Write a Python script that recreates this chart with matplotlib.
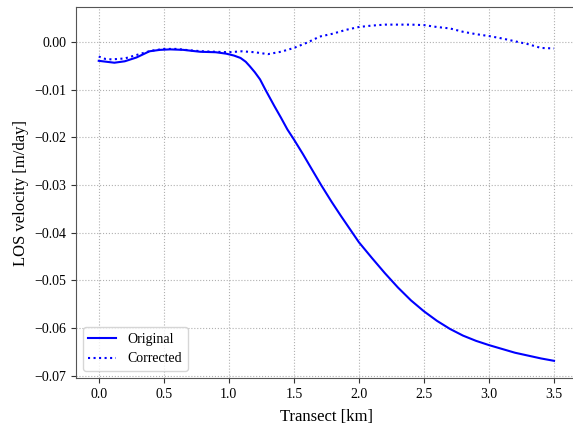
import matplotlib
matplotlib.use("Agg")
import matplotlib.pyplot as plt

# transect positions [km]
x_original = [0.0, 0.06, 0.12, 0.2, 0.29, 0.39, 0.47, 0.55, 0.65, 0.78, 0.9, 0.98, 1.04,
              1.09, 1.13, 1.16, 1.2, 1.24, 1.28, 1.32, 1.35, 1.4, 1.45, 1.5, 1.57, 1.63,
              1.71, 1.79, 1.86, 1.93, 2.0, 2.1, 2.2, 2.3, 2.4, 2.5, 2.6, 2.7, 2.8, 2.9,
              3.0, 3.1, 3.2, 3.3, 3.4, 3.5]
los_original = [-0.0039, -0.0041, -0.0043, -0.0040, -0.0032, -0.0019, -0.0016, -0.0015,
                -0.0016, -0.0020, -0.0021, -0.0024, -0.0028, -0.0033, -0.0041, -0.0050,
                -0.0063, -0.0078, -0.0099, -0.0119, -0.0134, -0.0158, -0.0183, -0.0204,
                -0.0235, -0.0263, -0.0300, -0.0335, -0.0364, -0.0392, -0.0420, -0.0453,
                -0.0485, -0.0515, -0.0542, -0.0565, -0.0585, -0.0602, -0.0616, -0.0627,
                -0.0636, -0.0644, -0.0652, -0.0658, -0.0664, -0.0669]

x_corrected = [0.0, 0.05, 0.1, 0.2, 0.3, 0.4, 0.5, 0.6, 0.7, 0.8, 0.9, 1.0, 1.1, 1.2,
               1.3, 1.4, 1.5, 1.6, 1.7, 1.8, 1.9, 2.0, 2.1, 2.2, 2.3, 2.4, 2.5, 2.6,
               2.7, 2.8, 2.9, 3.0, 3.1, 3.2, 3.3, 3.4, 3.5]
los_corrected = [-0.0030, -0.0035, -0.0036, -0.0034, -0.0026, -0.0018, -0.0014, -0.0014,
                 -0.0017, -0.0019, -0.0020, -0.0021, -0.0019, -0.0021, -0.0025, -0.0020,
                 -0.0012, -0.0001, 0.0012, 0.0018, 0.0026, 0.0032, 0.0035, 0.0037,
                 0.0037, 0.0037, 0.0036, 0.0032, 0.0029, 0.0022, 0.0017, 0.0013,
                 0.0008, 0.0002, -0.0004, -0.0012, -0.0013]

plt.rcParams["font.family"] = ["Liberation Serif", "DejaVu Serif"]

fig = plt.figure(figsize=(5.73, 4.30), dpi=100)
ax = fig.add_axes([0.1326, 0.121, 0.874, 0.8616])

ax.plot(x_original, los_original, color="blue", linewidth=1.5, label="Original")
ax.plot(x_corrected, los_corrected, color="blue", linewidth=1.5, linestyle=":", label="Corrected")

ax.set_xlabel("Transect [km]", fontsize=12, labelpad=6)
ax.set_ylabel("LOS velocity [m/day]", fontsize=12)
ax.tick_params(labelsize=10, color="#333333")
ax.grid(True, linestyle=":", color="#b0b0b0", linewidth=0.8)
for side in ax.spines:
    ax.spines[side].set_color("#555555")
ax.set_ylim(-0.0705, 0.0073)
ax.set_xlim(-0.175, 3.675)

ax.legend(loc="lower left", fontsize=10)

fig.savefig("out.png", dpi=100)
plt.close(fig)
